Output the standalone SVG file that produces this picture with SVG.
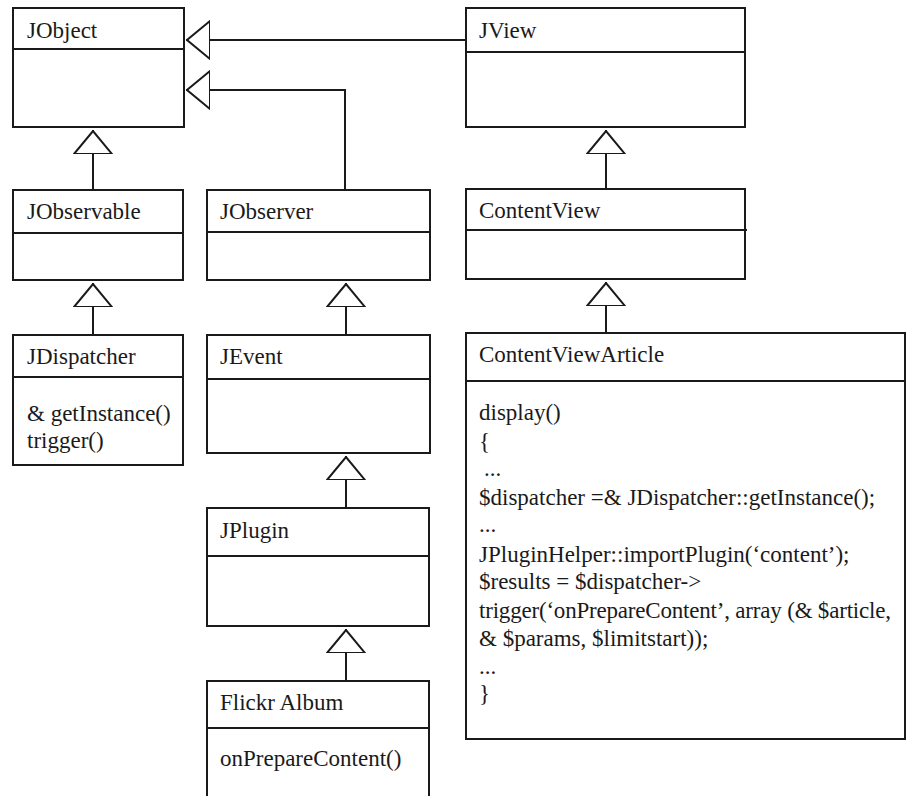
<svg xmlns="http://www.w3.org/2000/svg" width="907" height="796" viewBox="0 0 907 796">
  <style>
    .box { fill: #ffffff; stroke: #1a1a1a; stroke-width: 2; }
    .div { stroke: #1a1a1a; stroke-width: 2; fill: none; }
    .wire { stroke: #1a1a1a; stroke-width: 2; fill: none; marker-end: url(#inherit); }
    .lbl { font-family: 'Liberation Serif', 'DejaVu Serif', serif; font-size: 23px; fill: #1a1a1a; }
  </style>
  <defs>
    <!-- hollow UML generalisation triangle, tip at the path end -->
    <marker id="inherit" viewBox="0 0 24 40" refX="24" refY="20" markerWidth="24" markerHeight="40" markerUnits="userSpaceOnUse" orient="auto">
      <path d="M0,1 L23,20 L0,39 Z" fill="#ffffff" stroke="#1a1a1a" stroke-width="2"/>
    </marker>
  </defs>
  <rect width="907" height="796" fill="#ffffff"/>

  <g id="connectors">
    <path class="wire" d="M466,40 H186"/>
    <path class="wire" d="M345,190 V90 H186"/>
    <path class="wire" d="M93,190 V130"/>
    <path class="wire" d="M93,335 V283"/>
    <path class="wire" d="M346,335 V283"/>
    <path class="wire" d="M346,508 V456"/>
    <path class="wire" d="M346,681 V629"/>
    <path class="wire" d="M606,189 V130"/>
    <path class="wire" d="M606,333 V282"/>
  </g>

  <g id="JObject">
    <rect class="box" x="13" y="8" width="171" height="119"/>
    <line class="div" x1="13" y1="49" x2="184" y2="49"/>
    <text class="lbl" x="27" y="38">JObject</text>
  </g>

  <g id="JView">
    <rect class="box" x="466" y="8" width="279" height="119"/>
    <line class="div" x1="466" y1="52" x2="745" y2="52"/>
    <text class="lbl" x="479" y="38">JView</text>
  </g>

  <g id="JObservable">
    <rect class="box" x="13" y="190" width="170" height="90"/>
    <line class="div" x1="13" y1="233" x2="183" y2="233"/>
    <text class="lbl" x="27" y="219">JObservable</text>
  </g>

  <g id="JObserver">
    <rect class="box" x="207" y="190" width="223" height="90"/>
    <line class="div" x1="207" y1="232" x2="430" y2="232"/>
    <text class="lbl" x="220" y="219">JObserver</text>
  </g>

  <g id="ContentView">
    <rect class="box" x="466" y="189" width="279" height="90"/>
    <line class="div" x1="466" y1="230" x2="747" y2="230"/>
    <text class="lbl" x="479" y="218">ContentView</text>
  </g>

  <g id="JDispatcher">
    <rect class="box" x="13" y="335" width="170" height="130"/>
    <line class="div" x1="13" y1="377" x2="183" y2="377"/>
    <text class="lbl" x="27" y="364">JDispatcher</text>
    <text class="lbl" x="27" y="421">&amp; getInstance()</text>
    <text class="lbl" x="27" y="448">trigger()</text>
  </g>

  <g id="JEvent">
    <rect class="box" x="207" y="335" width="223" height="118"/>
    <line class="div" x1="207" y1="379" x2="430" y2="379"/>
    <text class="lbl" x="220" y="364">JEvent</text>
  </g>

  <g id="JPlugin">
    <rect class="box" x="207" y="508" width="222" height="118"/>
    <line class="div" x1="207" y1="556" x2="429" y2="556"/>
    <text class="lbl" x="220" y="538">JPlugin</text>
  </g>

  <g id="FlickrAlbum">
    <rect class="box" x="207" y="681" width="222" height="130"/>
    <line class="div" x1="207" y1="728" x2="429" y2="728"/>
    <text class="lbl" x="220" y="710">Flickr Album</text>
    <text class="lbl" x="220" y="766">onPrepareContent()</text>
  </g>

  <g id="ContentViewArticle">
    <rect class="box" x="466" y="333" width="439" height="406"/>
    <line class="div" x1="466" y1="381" x2="905" y2="381"/>
    <text class="lbl" x="479" y="362">ContentViewArticle</text>
    <text class="lbl" x="479" y="420">display()</text>
    <text class="lbl" x="479" y="449">{</text>
    <text class="lbl" x="484" y="476">...</text>
    <text class="lbl" x="479" y="505">$dispatcher =&amp; JDispatcher::getInstance();</text>
    <text class="lbl" x="479" y="532">...</text>
    <text class="lbl" x="479" y="562">JPluginHelper::importPlugin(‘content’);</text>
    <text class="lbl" x="479" y="589">$results = $dispatcher-&gt;</text>
    <text class="lbl" x="479" y="618" textLength="412" lengthAdjust="spacing">trigger(‘onPrepareContent’, array (&amp; $article,</text>
    <text class="lbl" x="479" y="646">&amp; $params, $limitstart));</text>
    <text class="lbl" x="479" y="674">...</text>
    <text class="lbl" x="479" y="701">}</text>
  </g>
</svg>
